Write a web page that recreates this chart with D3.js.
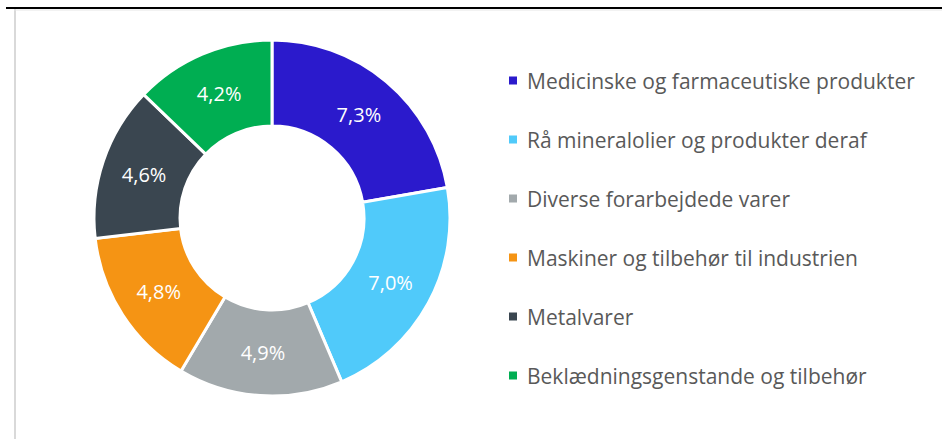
<!DOCTYPE html>
<html>
<head>
<meta charset="utf-8">
<script src="https://cdn.jsdelivr.net/npm/d3@7"></script>
<style>
  html, body { margin: 0; padding: 0; background: #fff; }
  svg { display: block; }
  .lbl { font-family: "Open Sans", sans-serif; font-size: 20px; fill: #fff; }
  .leg { font-family: "Open Sans", sans-serif; font-size: 21px; fill: #595959; }
</style>
</head>
<body>
<div id="main"></div>
<script>
// categories, values and colours
const categories = [
    "Medicinske og farmaceutiske produkter",
    "Rå mineralolier og produkter deraf",
    "Diverse forarbejdede varer",
    "Maskiner og tilbehør til industrien",
    "Metalvarer",
    "Beklædningsgenstande og tilbehør"
];
const values = [7.3, 7.0, 4.9, 4.8, 4.6, 4.2];
const colors = ["#2B1ACC", "#50CAFA", "#A2A9AC", "#F59414", "#3A4650", "#00AE52"];

const ctx = {
    w: 942,
    h: 439,
    cx: 272,
    cy: 218,
    rOuter: 178,
    rInner: 92,
    legX: 509,
    legY0: 80.5,
    legStep: 59,
};

function drawFrame(svg){
    // grey left rule and black top rule
    svg.append("line")
       .attr("x1", 15).attr("y1", 9)
       .attr("x2", 15).attr("y2", ctx.h)
       .style("stroke", "#d9d9d9")
       .style("stroke-width", 2);
    svg.append("line")
       .attr("x1", 14).attr("y1", 10)
       .attr("x2", ctx.w).attr("y2", 10)
       .style("stroke", "#e6e6e6")
       .style("stroke-width", 1);
    svg.append("line")
       .attr("x1", 6).attr("y1", 8)
       .attr("x2", ctx.w).attr("y2", 8)
       .style("stroke", "#000")
       .style("stroke-width", 2);
}

function drawDonut(svg){
    const data = categories.map((c, i) => ({name: c, value: values[i], color: colors[i]}));
    const pie = d3.pie().sort(null).value(d => d.value);
    const arc = d3.arc().innerRadius(ctx.rInner).outerRadius(ctx.rOuter);
    const labelArc = d3.arc().innerRadius((ctx.rInner + ctx.rOuter) / 2)
                             .outerRadius((ctx.rInner + ctx.rOuter) / 2);
    const fmt = v => d3.format(".1f")(v).replace(".", ",") + "%";

    const g = svg.append("g").attr("transform", `translate(${ctx.cx},${ctx.cy})`);
    const arcs = pie(data);
    g.selectAll("path")
     .data(arcs)
     .enter()
     .append("path")
     .attr("d", arc)
     .attr("fill", d => d.data.color)
     .attr("stroke", "#fff")
     .attr("stroke-width", 3);

    g.selectAll("text")
     .data(arcs)
     .enter()
     .append("text")
     .attr("class", "lbl")
     .attr("transform", d => `translate(${labelArc.centroid(d)})`)
     .attr("text-anchor", "middle")
     .attr("dy", "0.36em")
     .text(d => fmt(d.data.value));
}

function drawLegend(svg){
    const y = d3.scalePoint().domain(categories)
                .range([ctx.legY0, ctx.legY0 + ctx.legStep * (categories.length - 1)]);
    const rows = svg.append("g").selectAll("g")
                    .data(categories)
                    .enter()
                    .append("g")
                    .attr("transform", d => `translate(${ctx.legX},${y(d)})`);
    rows.append("rect")
        .attr("x", 0).attr("y", -4)
        .attr("width", 8).attr("height", 8)
        .attr("fill", (d, i) => colors[i]);
    rows.append("text")
        .attr("class", "leg")
        .attr("x", 18)
        .attr("dy", "0.42em")
        .text(d => d);
}

function createViz(){
    const svg = d3.select("#main").append("svg")
                  .attr("width", ctx.w)
                  .attr("height", ctx.h);
    drawFrame(svg);
    drawDonut(svg);
    drawLegend(svg);
}

createViz();
</script>
</body>
</html>
